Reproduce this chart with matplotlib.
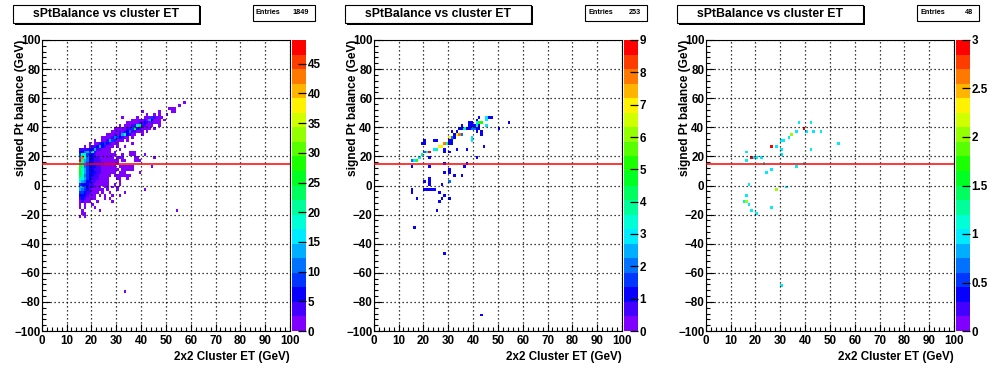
import numpy as np
import matplotlib
matplotlib.use('Agg')
import matplotlib.pyplot as plt
from matplotlib.colors import ListedColormap, BoundaryNorm, hsv_to_rgb
from matplotlib.patches import Rectangle
from matplotlib.ticker import FormatStrFormatter

plt.rcParams['font.family'] = ['Liberation Sans', 'DejaVu Sans']
plt.rcParams['font.weight'] = 'bold'

titles = ['sPtBalance vs cluster ET', 'sPtBalance vs cluster ET', 'sPtBalance vs cluster ET']
entries = [1849, 253, 48]
x_label = '2x2 Cluster ET (GeV)'
y_label = 'signed Pt balance (GeV)'
cut_value = 15
x_edges = np.arange(0, 101, 1)
y_edges = np.arange(-100, 101, 2)
cbar_ticks = [np.arange(0, 46, 5), np.arange(0, 10, 1), np.arange(0, 3.01, 0.5)]

# panel 1: (y bin, first x bin, counts in consecutive x bins)
p1_rows = [
    (56, 57, [1]),
    (54, 55, [1]),
    (52, 51, [1, 1, 1]),
    (50, 40, [1, 0, 0, 0, 0, 0, 0, 1, 0, 0, 0, 0, 1, 1]),
    (48, 42, [1, 0, 0, 1, 0, 1, 0, 0, 1]),
    (46, 32, [1, 0, 0, 0, 0, 0, 1, 0, 0, 1, 1, 2, 8, 3, 1, 1, 2]),
    (44, 36, [1, 2, 1, 1, 2, 3, 2, 14, 5, 2, 1, 1, 0, 2]),
    (42, 34, [1, 1, 2, 1, 2, 3, 4, 5, 3, 2, 3, 1, 1, 1]),
    (40, 31, [1, 0, 1, 1, 2, 3, 4, 15, 26, 4, 3, 2, 2, 1, 0, 0, 1]),
    (38, 29, [1, 1, 2, 1, 2, 3, 4, 8, 26, 5, 3, 2, 1, 1, 2, 0, 1]),
    (36, 28, [1, 2, 1, 3, 2, 4, 6, 12, 4, 3, 2, 1, 1, 0, 1]),
    (34, 26, [1, 1, 2, 3, 2, 4, 13, 22, 5, 3, 2, 1, 0, 0, 1]),
    (32, 24, [1, 1, 2, 1, 3, 12, 8, 5, 3, 2, 1, 0, 1]),
    (30, 21, [1, 0, 0, 1, 2, 3, 14, 9, 4, 2, 1, 1, 0, 1]),
    (28, 19, [1, 0, 1, 2, 3, 6, 9, 7, 3, 2, 1, 1, 0, 0, 0, 0, 0, 1]),
    (26, 17, [1, 0, 1, 3, 4, 5, 14, 5, 3, 2, 1, 1, 0, 1, 0, 0, 1]),
    (24, 15, [3, 4, 4, 3, 6, 5, 14, 4, 3, 2, 2, 1, 1, 0, 0, 0, 1]),
    (22, 15, [6, 6, 10, 14, 8, 15, 3, 2, 2, 1, 1, 1, 1, 0, 1, 0, 0, 0, 0, 0, 1, 1, 1]),
    (20, 15, [9, 22, 15, 9, 6, 5, 3, 2, 2, 1, 1, 1, 1, 1, 1, 0, 0, 1, 0, 0, 1, 1, 1, 0, 0, 0, 1]),
    (18, 15, [10, 42, 18, 10, 6, 5, 4, 3, 2, 2, 2, 1, 1, 1, 0, 1, 1, 1, 0, 0, 0, 0, 1, 1, 0, 0, 0, 0, 0, 0, 1]),
    (16, 15, [49, 20, 14, 10, 7, 5, 4, 3, 3, 2, 2, 2, 1, 1, 1, 1, 0, 1, 1, 0, 0, 0, 1, 1, 1]),
    (14, 15, [22, 18, 13, 9, 7, 5, 4, 4, 3, 3, 2, 2, 1, 1, 2, 1]),
    (12, 15, [28, 20, 12, 9, 7, 6, 5, 4, 3, 2, 2, 2, 1, 1, 1, 0, 1, 1, 1, 1, 1, 1, 0, 0, 0, 0, 0, 0, 0, 1]),
    (10, 15, [27, 19, 13, 8, 7, 5, 4, 4, 3, 2, 2, 1, 2, 1, 1, 1, 0, 1, 1, 1, 1, 1]),
    (8, 15, [26, 18, 13, 9, 7, 5, 5, 3, 3, 2, 2, 1, 1, 1, 1, 0, 1, 1, 1, 0, 0, 0, 0, 0, 1]),
    (6, 15, [24, 20, 12, 8, 6, 6, 4, 4, 2, 2, 1, 1, 1, 0, 1, 1, 1, 1, 1, 1, 1]),
    (4, 15, [20, 16, 13, 8, 6, 4, 3, 3, 2, 2, 1, 1, 0, 0, 0, 1, 1, 0, 0, 1]),
    (2, 15, [15, 13, 10, 7, 5, 4, 3, 2, 1, 1, 1, 1, 0, 0, 0, 0, 1]),
    (0, 15, [8, 6, 6, 5, 4, 3, 2, 1, 1, 1, 1, 1, 0, 0, 1, 0, 1]),
    (-2, 15, [14, 13, 9, 6, 4, 3, 2, 2, 1, 0, 1, 1, 0, 1, 0, 1]),
    (-4, 15, [13, 12, 8, 5, 3, 2, 2, 1, 1, 1, 0, 1, 0, 0, 0, 1, 0, 0, 0, 0, 0, 0, 0, 0, 0, 0, 1]),
    (-6, 15, [9, 8, 6, 4, 3, 2, 1, 1, 0, 1, 0, 0, 1, 0, 0, 0, 0, 0, 1]),
    (-8, 15, [6, 7, 5, 3, 2, 1, 1, 0, 1, 0, 1, 0, 0, 1, 0, 0, 1]),
    (-10, 15, [4, 5, 3, 2, 1, 1, 1, 0, 0, 0, 1, 0, 1]),
    (-12, 15, [2, 3, 2, 1, 1, 0, 0, 1, 0, 0, 0, 0, 0, 1]),
    (-14, 15, [1, 0, 1, 0, 0, 1]),
    (-16, 15, [1, 0, 1, 0, 0, 0, 1]),
    (-18, 16, [1, 0, 0, 0, 0, 0, 0, 1]),
    (-20, 16, [1, 1]),
    (-22, 15, [1, 0, 1]),
]
p1_extra = [(54, -18, 1), (33, -74, 1)]

# panels 2 and 3: (x bin, y bin, count)
p2_cells = [
    (15, 16, 2), (16, 16, 3), (17, 16, 5), (18, 18, 3), (19, 20, 4), (20, 22, 2),
    (21, 22, 3), (22, 22, 9), (24, 24, 3), (25, 24, 4), (26, 26, 7), (27, 26, 7),
    (25, 30, 1), (28, 28, 8), (29, 28, 4), (30, 28, 1), (31, 28, 1), (30, 30, 1),
    (31, 30, 1), (30, 32, 7), (31, 32, 2), (32, 32, 1), (33, 34, 7), (34, 34, 8),
    (32, 34, 1), (35, 34, 2), (31, 36, 1), (33, 36, 1), (34, 38, 1), (35, 38, 1),
    (36, 38, 4), (37, 38, 1), (38, 38, 1), (39, 38, 2), (40, 38, 2), (41, 38, 1),
    (42, 38, 1), (35, 40, 1), (38, 40, 1), (39, 40, 1), (40, 40, 1), (41, 40, 3),
    (42, 40, 1), (45, 40, 3), (38, 42, 1), (39, 42, 1), (41, 42, 3), (42, 42, 5),
    (43, 42, 5), (41, 44, 1), (45, 44, 3), (42, 46, 1), (45, 46, 3), (46, 46, 1),
    (47, 46, 1), (54, 42, 1), (50, 38, 1), (39, 32, 3), (39, 30, 3), (41, 36, 1),
    (43, 36, 1), (43, 34, 1), (19, 28, 1), (20, 28, 1), (20, 30, 1), (24, 30, 1),
    (28, 22, 1), (28, 24, 1), (30, 22, 1), (33, 24, 1), (37, 24, 1), (44, 26, 1),
    (41, 18, 1), (28, 14, 1), (37, 14, 1), (36, 12, 1), (15, 12, 1), (22, 12, 1),
    (22, 18, 1), (30, 10, 1), (28, 8, 1), (30, 8, 1), (32, 6, 1), (35, 6, 1),
    (20, 2, 1), (22, 4, 1), (22, 2, 1), (30, 2, 2), (22, 0, 1), (27, 0, 1),
    (15, -4, 1), (15, -6, 1), (20, -4, 1), (21, -4, 1), (22, -4, 1), (23, -4, 1),
    (24, -4, 1), (26, -6, 1), (28, -8, 1), (27, -10, 1), (30, -10, 1), (17, -10, 1),
    (26, -12, 1), (25, -18, 1), (16, -30, 1), (28, -48, 1), (43, -90, 1),
]
p3_cells = [
    (37, 42, 1), (42, 42, 1), (39, 38, 3), (40, 36, 1), (36, 36, 1), (43, 36, 1),
    (46, 36, 1), (34, 34, 2), (33, 32, 1), (30, 30, 1), (31, 30, 1), (26, 26, 3),
    (28, 26, 1), (30, 24, 1), (30, 20, 1), (42, 24, 1), (53, 28, 1), (16, 22, 1),
    (16, 16, 1), (18, 18, 3), (19, 18, 1), (20, 18, 1), (22, 18, 1), (23, 14, 1),
    (36, 12, 1), (39, 14, 1), (26, 10, 1), (24, 8, 1), (17, 0, 1), (28, -4, 2),
    (32, -2, 1), (16, -8, 1), (15, -12, 1), (16, -12, 2), (17, -14, 1), (18, -18, 1),
    (26, -16, 1), (20, -20, 1), (30, -70, 1),
]

p1_cells = [(x0 + i, y, n) for y, x0, counts in p1_rows for i, n in enumerate(counts) if n]
p1_cells += p1_extra


def fill(cells):
    h = np.zeros((len(y_edges) - 1, len(x_edges) - 1))
    for x, y, n in cells:
        iy = np.searchsorted(y_edges, y, side='right') - 1
        ix = np.searchsorted(x_edges, x, side='right') - 1
        h[iy, ix] += n
    return h


hists = [fill(p1_cells), fill(p2_cells), fill(p3_cells)]

# ROOT-like rainbow palette, 20 contour bands
hues = np.linspace(270, 0, 20) / 360.0
palette = ListedColormap(hsv_to_rgb(np.column_stack([hues, np.ones(20), np.ones(20)])))

W, H = 996, 372
fig = plt.figure(figsize=(W / 100, H / 100), dpi=100)
fig.patch.set_facecolor('white')


def fx(px):
    return px / W


def fy(py):
    return 1 - py / H


for k in range(3):
    off = 332 * k
    left = 41.7 + off
    ax = fig.add_axes([fx(left), fy(331), fx(248.3), 291 / H])
    h = hists[k]
    norm = BoundaryNorm(np.linspace(0, h.max(), 21), 20)
    mesh = ax.pcolormesh(x_edges, y_edges, np.ma.masked_equal(h, 0), cmap=palette, norm=norm)
    ax.axhline(cut_value, color='red', lw=1.1, zorder=3)
    ax.set_xlim(0, 100)
    ax.set_ylim(-100, 100)
    ax.set_xticks(np.arange(0, 101, 10))
    ax.set_xticks(np.arange(0, 101, 2), minor=True)
    ax.set_yticks(np.arange(-100, 101, 20))
    ax.set_yticks(np.arange(-100, 101, 4), minor=True)
    ax.grid(True, which='major', color='black', linestyle=(0, (1, 2.2)), linewidth=0.9)
    ax.set_axisbelow(False)
    ax.tick_params(which='both', direction='in', top=False, right=False, width=0.8)
    ax.tick_params(which='major', length=5.4, labelsize=8.4)
    ax.tick_params(axis='x', which='major', pad=3)
    ax.tick_params(axis='y', which='major', pad=1)
    ax.tick_params(which='minor', length=2.7)
    for s in ax.spines.values():
        s.set_linewidth(0.8)

    cax = fig.add_axes([fx(left + 250), fy(331), fx(14.3), 291 / H])
    cb = fig.colorbar(mesh, cax=cax, ticks=cbar_ticks[k])
    cb.outline.set_visible(False)
    cax.yaxis.set_major_formatter(FormatStrFormatter('%g'))
    cax.tick_params(direction='in', length=5.5, width=0.9, labelsize=8.4, pad=1)
    cax.minorticks_off()

    fig.text(fx(left - 21), fy(40), y_label, rotation=90, ha='center', va='top', fontsize=8.6)
    fig.text(fx(left + 248.3), fy(356.7), x_label, ha='right', va='center', fontsize=8.4)

    # title box
    fig.add_artist(Rectangle((fx(15 + off), fy(24.5)), fx(186), 18.5 / H, transform=fig.transFigure,
                             facecolor='black', edgecolor='black', lw=0))
    fig.add_artist(Rectangle((fx(13.3 + off), fy(23.3)), fx(185.7), 18.3 / H, transform=fig.transFigure,
                             facecolor='white', edgecolor='black', lw=0.8))
    fig.text(fx(106 + off), fy(14.3), titles[k], ha='center', va='center', fontsize=8.8)

    # stats box
    fig.add_artist(Rectangle((fx(253 + off), fy(20.7)), fx(62), 15.7 / H, transform=fig.transFigure,
                             facecolor='white', edgecolor='black', lw=0.8))
    fig.text(fx(256 + off), fy(12.8), 'Entries', ha='left', va='center', fontsize=5.2)
    fig.text(fx(309 + off), fy(12.8), str(entries[k]), ha='right', va='center', fontsize=5.2)

fig.savefig('out.png', dpi=100, facecolor='white')
